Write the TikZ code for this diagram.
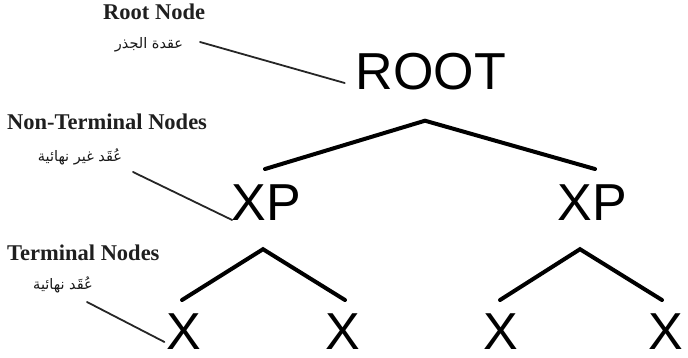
\documentclass[tikz,border=0pt]{standalone}
\usepackage{fontspec}
\usetikzlibrary{calc}
\setmainfont{Liberation Serif}
\newfontfamily\treefont{Liberation Sans}
\newfontfamily\arabicfont[Script=Arabic]{DejaVu Sans}
\TeXXeTstate=1

\tikzset{
  treelabel/.style={font=\treefont\fontsize{52}{52}\selectfont, inner sep=0pt, anchor=base, text=black},
  enlabel/.style={font=\bfseries\fontsize{22.5}{24}\selectfont, inner sep=0pt, anchor=base west, text=black!88},
  arlabel/.style={font=\arabicfont\fontsize{14.5}{16}\selectfont, inner sep=0pt, text=black!90},
  branch/.style={line width=4pt, line cap=round, line join=miter},
  leader/.style={line width=1.8pt, line cap=round, black!85},
}

\begin{document}
\begin{tikzpicture}[x=1pt, y=-1pt]
  \useasboundingbox (0,0) rectangle (688,358);

  % tree nodes
  \node[treelabel] (root) at (431,90) {ROOT};
  \node[treelabel] (xpl) at (266,221) {XP};
  \node[treelabel] (xpr) at (592,221) {XP};
  \node[treelabel] (xa) at (184,349) {X};
  \node[treelabel] (xb) at (343,349) {X};
  \node[treelabel] (xc) at (501,349) {X};
  \node[treelabel] (xd) at (666,349) {X};

  % branches
  \draw[branch] ($(xpl.north)+(-1,-16)$) -- ($(root.south)+(-6,30)$) -- ($(xpr.north)+(3,-16)$);
  \draw[branch] ($(xa.north)+(-2,-13)$) -- ($(xpl.south)+(-3,28)$) -- ($(xb.north)+(2,-13)$);
  \draw[branch] ($(xc.north)+(-1,-13)$) -- ($(xpr.south)+(-12,28)$) -- ($(xd.north)+(-4,-13)$);

  % captions
  \node[enlabel] (rootcap) at (103,20) {Root Node};
  \node[arlabel] (rootar) at (149,45) {\beginR عقدة الجذر\endR};
  \node[enlabel] (ntcap) at (7,130) {Non-Terminal Nodes};
  \node[arlabel] (ntar) at (80,157) {\beginR عُقَد غير نهائية\endR};
  \node[enlabel] (tcap) at (7,260) {Terminal Nodes};
  \node[arlabel] (tar) at (63,285) {\beginR عُقَد نهائية\endR};

  % leader lines from captions to nodes
  \coordinate (rootlead) at (200,42);
  \coordinate (ntlead) at (133,172);
  \coordinate (tlead) at (87,302);
  \draw[leader] (rootlead) -- ($(root.base west)+(-11,-7)$);
  \draw[leader] (ntlead) -- ($(xpl.base west)+(1,-1)$);
  \draw[leader] (tlead) -- ($(xa.base west)+(-2,-7)$);
\end{tikzpicture}
\end{document}
